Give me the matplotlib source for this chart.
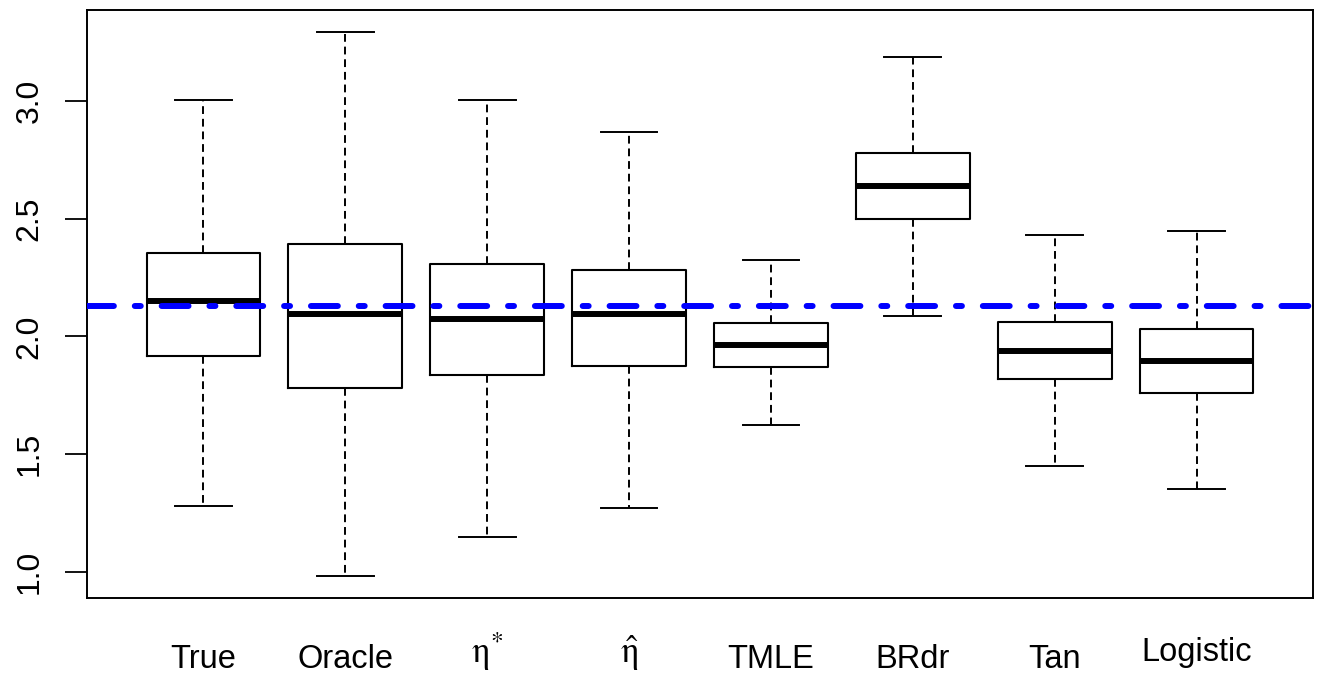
import numpy as np
import matplotlib.pyplot as plt

plt.rcParams['font.family'] = ['Liberation Sans', 'DejaVu Sans']
plt.rcParams['mathtext.fontset'] = 'stix'

# boxplot summary per method
labels = ['True', 'Oracle', r'$\mathrm{\eta}^{*}$', r'$\hat{\mathrm{\eta}}$', 'TMLE', 'BRdr', 'Tan', 'Logistic']
whislo = [1.279, 0.983, 1.148, 1.271, 1.626, 2.087, 1.452, 1.355]
q1 = [1.918, 1.782, 1.837, 1.875, 1.871, 2.497, 1.818, 1.761]
med = [2.152, 2.095, 2.074, 2.095, 1.964, 2.639, 1.937, 1.896]
q3 = [2.353, 2.391, 2.305, 2.283, 2.055, 2.778, 2.063, 2.033]
whishi = [3.004, 3.292, 3.004, 2.865, 2.325, 3.186, 2.429, 2.446]
true_value = 2.13

stats = []
for i in range(len(labels)):
    stats.append(dict(whislo=whislo[i], q1=q1[i], med=med[i], q3=q3[i],
                      whishi=whishi[i], fliers=[], label=labels[i]))

fig = plt.figure(figsize=(13.23, 6.75), dpi=100)
ax = fig.add_axes([87/1323, 1-598/675, (1313-87)/1323, (598-10)/675])

pos = np.arange(1, len(labels)+1)
ax.bxp(stats, positions=pos, widths=0.8, showfliers=False,
       boxprops=dict(color='black', linewidth=1.5),
       medianprops=dict(color='black', linewidth=4.3, solid_capstyle='butt'),
       whiskerprops=dict(color='black', linewidth=1.4, linestyle=(0, (4, 2.5))),
       capprops=dict(color='black', linewidth=1.4),
       capwidths=0.4)

ax.axhline(true_value, color='#0000ff', linewidth=4.3,
           linestyle=(0, (4.5, 3.5, 1, 3.5)), dash_capstyle='round', zorder=5)

ax.set_xlim(0.18, 8.82)
ax.set_ylim(0.891, 3.384)
ax.set_yticks([1.0, 1.5, 2.0, 2.5, 3.0])
ax.set_yticklabels(['1.0', '1.5', '2.0', '2.5', '3.0'], rotation=90, va='center')
ax.tick_params(axis='y', length=15.5, width=1.3, pad=15, labelsize=23)
ax.set_xticks([])
for s in ax.spines.values():
    s.set_linewidth(1.4)

for i, lab in enumerate(labels):
    if lab == 'Logistic':
        yoff = -0.107
    elif lab.startswith('$'):
        yoff = -0.111
    else:
        yoff = -0.119
    fs = 26 if lab.startswith('$') else 23.5
    ax.text(pos[i], yoff, lab, transform=ax.get_xaxis_transform(),
            ha='center', va='baseline', fontsize=fs)

fig.savefig('out.png', dpi=100)
